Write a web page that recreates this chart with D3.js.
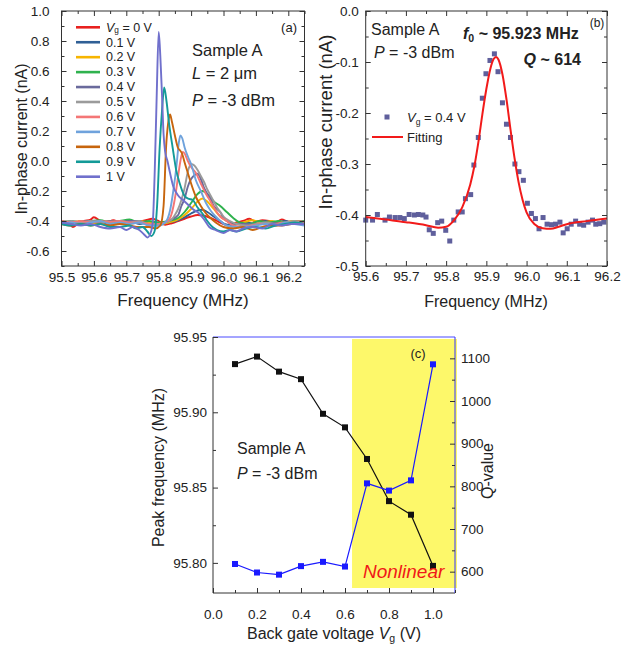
<!doctype html>
<html lang="en">
<head>
<meta charset="utf-8" />
<title>Sample A resonance</title>
<script src="https://d3js.org/d3.v7.min.js"></script>
<style>
  body { margin: 0; background: #fff; }
  svg { font-family: "Liberation Sans", Arial, sans-serif; }
  .tk text { font-size: 13.5px; fill: #222; }
  .tk line { stroke: #333; }
  .tk .domain { display: none; }
</style>
</head>
<body>
<svg id="chart" width="640" height="648"></svg>
<script>
// ---- (a) frequency sweeps, one per back gate voltage: [MHz, nA]
const sweepLabels = ["0 V", "0.1 V", "0.2 V", "0.3 V", "0.4 V", "0.5 V", "0.6 V", "0.7 V", "0.8 V", "0.9 V", "1 V"];
const sweepColors = ["#e8211f", "#2f5f95", "#f7b500", "#2fb24e", "#6a6a9c", "#9b9b9b", "#f47676", "#6fa2dc", "#c7650d", "#139a98", "#7070cc"];

const sweep0 = [[95.50,-0.405],[95.52,-0.41],[95.535,-0.44],[95.55,-0.42],[95.57,-0.40],[95.59,-0.39],[95.60,-0.375],[95.62,-0.40],[95.64,-0.41],[95.66,-0.395],[95.68,-0.41],[95.70,-0.40],[95.72,-0.415],[95.74,-0.405],[95.76,-0.395],[95.78,-0.385],[95.80,-0.40],[95.82,-0.425],[95.84,-0.415],[95.86,-0.40],[95.88,-0.385],[95.90,-0.37],[95.92,-0.36],[95.94,-0.365],[95.96,-0.38],[95.98,-0.40],[96.00,-0.42],[96.02,-0.43],[96.04,-0.41],[96.06,-0.40],[96.08,-0.385],[96.10,-0.405],[96.12,-0.395],[96.14,-0.40],[96.16,-0.41],[96.18,-0.39],[96.20,-0.405],[96.22,-0.40],[96.25,-0.405]];
const sweep1 = [[95.50,-0.415],[95.53,-0.42],[95.56,-0.40],[95.59,-0.41],[95.62,-0.405],[95.65,-0.42],[95.68,-0.41],[95.71,-0.40],[95.74,-0.42],[95.77,-0.41],[95.80,-0.42],[95.83,-0.41],[95.86,-0.395],[95.88,-0.375],[95.90,-0.35],[95.92,-0.33],[95.935,-0.325],[95.95,-0.34],[95.97,-0.37],[95.99,-0.40],[96.01,-0.425],[96.04,-0.42],[96.07,-0.41],[96.10,-0.42],[96.13,-0.40],[96.16,-0.415],[96.19,-0.40],[96.22,-0.415],[96.25,-0.41]];
const sweep2 = [[95.50,-0.40],[95.53,-0.41],[95.56,-0.40],[95.59,-0.42],[95.62,-0.41],[95.65,-0.40],[95.68,-0.41],[95.71,-0.42],[95.74,-0.40],[95.77,-0.41],[95.80,-0.42],[95.83,-0.41],[95.86,-0.39],[95.88,-0.36],[95.90,-0.32],[95.92,-0.27],[95.935,-0.25],[95.95,-0.27],[95.97,-0.32],[95.99,-0.37],[96.01,-0.40],[96.03,-0.42],[96.06,-0.41],[96.09,-0.395],[96.12,-0.41],[96.15,-0.40],[96.18,-0.42],[96.21,-0.40],[96.25,-0.41]];
const sweep3 = [[95.50,-0.41],[95.53,-0.40],[95.56,-0.41],[95.59,-0.40],[95.62,-0.395],[95.65,-0.41],[95.68,-0.40],[95.71,-0.39],[95.74,-0.41],[95.77,-0.40],[95.80,-0.41],[95.83,-0.40],[95.86,-0.38],[95.88,-0.34],[95.90,-0.28],[95.92,-0.22],[95.935,-0.20],[95.95,-0.22],[95.97,-0.27],[95.99,-0.30],[96.01,-0.34],[96.03,-0.38],[96.05,-0.41],[96.08,-0.42],[96.11,-0.40],[96.14,-0.41],[96.17,-0.40],[96.20,-0.415],[96.25,-0.40]];
const sweep4 = [[95.50,-0.40],[95.53,-0.41],[95.56,-0.405],[95.59,-0.40],[95.62,-0.41],[95.65,-0.40],[95.68,-0.405],[95.71,-0.40],[95.74,-0.40],[95.77,-0.43],[95.80,-0.43],[95.82,-0.41],[95.84,-0.39],[95.86,-0.36],[95.87,-0.30],[95.88,-0.25],[95.89,-0.17],[95.90,-0.12],[95.91,-0.095],[95.92,-0.085],[95.93,-0.12],[95.94,-0.18],[95.95,-0.22],[95.96,-0.25],[95.97,-0.30],[95.98,-0.32],[95.99,-0.34],[96.00,-0.38],[96.02,-0.41],[96.04,-0.42],[96.07,-0.42],[96.10,-0.425],[96.13,-0.41],[96.16,-0.415],[96.19,-0.415],[96.22,-0.41],[96.25,-0.405]];
const sweep5 = [[95.50,-0.41],[95.53,-0.40],[95.56,-0.41],[95.59,-0.40],[95.62,-0.405],[95.65,-0.41],[95.68,-0.40],[95.71,-0.41],[95.74,-0.40],[95.77,-0.42],[95.80,-0.42],[95.82,-0.41],[95.84,-0.39],[95.85,-0.36],[95.86,-0.32],[95.87,-0.26],[95.88,-0.18],[95.89,-0.07],[95.90,-0.02],[95.91,-0.03],[95.92,-0.06],[95.93,-0.10],[95.94,-0.14],[95.95,-0.19],[95.96,-0.23],[95.97,-0.27],[95.98,-0.31],[95.99,-0.34],[96.00,-0.37],[96.02,-0.40],[96.04,-0.42],[96.07,-0.43],[96.10,-0.42],[96.13,-0.41],[96.16,-0.42],[96.19,-0.41],[96.22,-0.40],[96.25,-0.41]];
const sweep6 = [[95.50,-0.40],[95.53,-0.41],[95.56,-0.40],[95.59,-0.41],[95.62,-0.40],[95.65,-0.405],[95.68,-0.40],[95.71,-0.41],[95.74,-0.41],[95.77,-0.42],[95.80,-0.42],[95.82,-0.41],[95.835,-0.38],[95.85,-0.25],[95.86,-0.10],[95.867,0.0],[95.874,0.06],[95.88,0.05],[95.89,0.0],[95.90,-0.04],[95.915,-0.08],[95.93,-0.15],[95.946,-0.22],[95.96,-0.27],[95.976,-0.33],[95.99,-0.37],[96.01,-0.40],[96.03,-0.43],[96.06,-0.44],[96.09,-0.43],[96.12,-0.42],[96.15,-0.43],[96.18,-0.41],[96.21,-0.42],[96.25,-0.41]];
const sweep7 = [[95.50,-0.42],[95.53,-0.41],[95.56,-0.42],[95.59,-0.41],[95.62,-0.40],[95.65,-0.42],[95.68,-0.41],[95.71,-0.42],[95.74,-0.41],[95.77,-0.43],[95.80,-0.43],[95.82,-0.41],[95.835,-0.33],[95.845,-0.20],[95.855,-0.03],[95.862,0.12],[95.867,0.17],[95.873,0.15],[95.88,0.09],[95.89,0.03],[95.90,-0.02],[95.915,-0.13],[95.93,-0.20],[95.946,-0.28],[95.96,-0.33],[95.976,-0.37],[95.99,-0.40],[96.01,-0.43],[96.04,-0.44],[96.07,-0.44],[96.10,-0.43],[96.13,-0.42],[96.16,-0.43],[96.19,-0.41],[96.22,-0.42],[96.25,-0.43]];
const sweep8 = [[95.50,-0.42],[95.53,-0.43],[95.56,-0.42],[95.59,-0.43],[95.62,-0.42],[95.65,-0.43],[95.68,-0.42],[95.71,-0.43],[95.74,-0.44],[95.77,-0.44],[95.79,-0.45],[95.805,-0.43],[95.815,-0.30],[95.823,0.10],[95.829,0.25],[95.835,0.31],[95.841,0.26],[95.85,0.17],[95.859,0.09],[95.866,0.07],[95.872,0.05],[95.88,-0.01],[95.89,-0.08],[95.90,-0.15],[95.915,-0.24],[95.93,-0.30],[95.946,-0.35],[95.96,-0.38],[95.976,-0.41],[96.00,-0.44],[96.03,-0.45],[96.06,-0.44],[96.09,-0.46],[96.12,-0.44],[96.15,-0.43],[96.18,-0.43],[96.21,-0.42],[96.25,-0.42]];
const sweep9 = [[95.50,-0.42],[95.53,-0.43],[95.56,-0.42],[95.59,-0.43],[95.62,-0.42],[95.65,-0.44],[95.68,-0.44],[95.71,-0.43],[95.73,-0.45],[95.75,-0.44],[95.765,-0.47],[95.777,-0.50],[95.787,-0.47],[95.795,-0.30],[95.803,0.09],[95.81,0.33],[95.817,0.49],[95.824,0.40],[95.832,0.25],[95.843,0.09],[95.854,-0.06],[95.865,-0.15],[95.879,-0.23],[95.89,-0.25],[95.905,-0.26],[95.92,-0.31],[95.935,-0.35],[95.95,-0.40],[95.966,-0.44],[95.98,-0.46],[96.00,-0.47],[96.02,-0.46],[96.04,-0.47],[96.07,-0.45],[96.10,-0.44],[96.13,-0.45],[96.16,-0.43],[96.19,-0.42],[96.22,-0.41],[96.25,-0.42]];
const sweep10 = [[95.50,-0.41],[95.53,-0.42],[95.56,-0.43],[95.59,-0.42],[95.62,-0.44],[95.65,-0.45],[95.68,-0.44],[95.70,-0.46],[95.72,-0.44],[95.74,-0.46],[95.755,-0.49],[95.765,-0.51],[95.775,-0.48],[95.782,-0.40],[95.788,-0.05],[95.794,0.45],[95.80,0.86],[95.805,0.70],[95.81,0.45],[95.815,0.18],[95.82,0.06],[95.827,0.0],[95.835,-0.08],[95.845,-0.17],[95.86,-0.23],[95.875,-0.26],[95.89,-0.29],[95.905,-0.32],[95.925,-0.35],[95.94,-0.39],[95.956,-0.44],[95.975,-0.46],[96.00,-0.48],[96.02,-0.46],[96.04,-0.47],[96.06,-0.45],[96.09,-0.44],[96.12,-0.45],[96.15,-0.42],[96.18,-0.43],[96.21,-0.42],[96.25,-0.42]];
const sweeps = [sweep0, sweep1, sweep2, sweep3, sweep4, sweep5, sweep6, sweep7, sweep8, sweep9, sweep10];

const aFreqTicks = [95.5, 95.6, 95.7, 95.8, 95.9, 96.0, 96.1, 96.2];
const aFreqMinor = [95.55, 95.65, 95.75, 95.85, 95.95, 96.05, 96.15, 96.25];
const aCurrTicks = [-0.6, -0.4, -0.2, 0.0, 0.2, 0.4, 0.6, 0.8, 1.0];
const aCurrMinor = [-0.7, -0.5, -0.3, -0.1, 0.1, 0.3, 0.5, 0.7, 0.9];

// ---- (b) Vg = 0.4 V data and Lorentzian fit
const bMeasured = [[95.600,-0.410],[95.617,-0.410],[95.629,-0.399],[95.648,-0.410],[95.659,-0.404],[95.673,-0.405],[95.685,-0.405],[95.696,-0.407],[95.708,-0.399],[95.721,-0.400],[95.731,-0.399],[95.742,-0.400],[95.750,-0.404],[95.758,-0.429],[95.768,-0.436],[95.779,-0.415],[95.789,-0.412],[95.799,-0.430],[95.809,-0.451],[95.819,-0.410],[95.830,-0.394],[95.840,-0.394],[95.848,-0.368],[95.861,-0.360],[95.869,-0.302],[95.880,-0.248],[95.890,-0.171],[95.899,-0.123],[95.909,-0.097],[95.920,-0.084],[95.929,-0.119],[95.940,-0.180],[95.950,-0.222],[95.960,-0.248],[95.971,-0.300],[95.981,-0.315],[95.992,-0.332],[96.002,-0.377],[96.012,-0.397],[96.022,-0.407],[96.031,-0.427],[96.041,-0.405],[96.051,-0.418],[96.062,-0.419],[96.072,-0.418],[96.083,-0.414],[96.091,-0.435],[96.101,-0.427],[96.111,-0.418],[96.122,-0.412],[96.132,-0.418],[96.142,-0.420],[96.153,-0.414],[96.164,-0.410],[96.172,-0.418],[96.182,-0.417],[96.192,-0.414]];
const bFit = [[95.60,-0.404],[95.65,-0.409],[95.70,-0.414],[95.75,-0.420],[95.78,-0.425],[95.80,-0.423],[95.82,-0.410],[95.84,-0.385],[95.86,-0.340],[95.87,-0.305],[95.88,-0.258],[95.89,-0.203],[95.90,-0.153],[95.91,-0.113],[95.918,-0.094],[95.924,-0.090],[95.93,-0.095],[95.94,-0.124],[95.95,-0.173],[95.96,-0.232],[95.97,-0.288],[95.98,-0.335],[95.99,-0.370],[96.00,-0.395],[96.02,-0.418],[96.04,-0.426],[96.06,-0.427],[96.08,-0.423],[96.10,-0.418],[96.15,-0.412],[96.20,-0.407]];
const bFreqTicks = [95.6, 95.7, 95.8, 95.9, 96.0, 96.1, 96.2];
const bFreqMinor = [95.65, 95.75, 95.85, 95.95, 96.05, 96.15];
const bCurrTicks = [-0.5, -0.4, -0.3, -0.2, -0.1, 0.0];
const bCurrMinor = [-0.45, -0.35, -0.25, -0.15, -0.05];

// ---- (c) peak frequency and Q versus back gate voltage
const gateVoltages = [0.1, 0.2, 0.3, 0.4, 0.5, 0.6, 0.7, 0.8, 0.9, 1.0];
const peakFreqs = [95.932, 95.937, 95.927, 95.922, 95.899, 95.890, 95.869, 95.841, 95.832, 95.798];
const qValues = [618, 598, 593, 613, 623, 612, 807, 790, 814, 1086];
const nonlinearFrom = 0.632;
const cVgTicks = [0.0, 0.2, 0.4, 0.6, 0.8, 1.0];
const cVgMinor = [0.1, 0.3, 0.5, 0.7, 0.9, 1.1];
const cFreqTicks = [95.80, 95.85, 95.90, 95.95];
const cFreqMinor = [95.825, 95.875, 95.925];
const cQTicks = [600, 700, 800, 900, 1000, 1100];
const cQMinor = [650, 750, 850, 950, 1050];

const svg = d3.select("#chart");
const ink = "#222";
const f1 = d => d.toFixed(1);
const f2 = d => d.toFixed(2);

function drawAxis(g, axisFn, scale, major, minor, fmt, pad, tf, color) {
  const a = g.append("g").attr("class", "tk").attr("transform", tf)
    .call(axisFn(scale).tickValues(major).tickSize(-5).tickPadding(pad).tickFormat(fmt || ""));
  g.append("g").attr("class", "tk").attr("transform", tf)
    .call(axisFn(scale).tickValues(minor).tickSize(-3).tickFormat(""));
  if (color) {
    a.selectAll("text").attr("fill", color);
  }
  return a;
}

function colorTicks(sel, color) {
  sel.selectAll(".tk line").attr("stroke", color);
}

function label(x, y, parts, size, opts) {
  opts = opts || {};
  const t = svg.append("text").attr("x", x).attr("y", y)
    .attr("font-size", size).attr("fill", opts.fill || ink)
    .attr("text-anchor", opts.anchor || "start");
  if (opts.weight) t.attr("font-weight", opts.weight);
  if (opts.rotate) t.attr("transform", `rotate(-90,${x},${y})`);
  const drop = opts.drop || 3;
  let shift = 0;
  parts.forEach(p => {
    const s = t.append("tspan").text(p.t);
    if (p.i) s.attr("font-style", "italic");
    if (p.sub) { s.attr("font-size", size * 0.66).attr("dy", drop - shift); shift = drop; }
    else if (shift) { s.attr("dy", -shift); shift = 0; }
  });
  return t;
}

// ================= panel (a)
const ax = d3.scaleLinear().domain([95.5, 96.25]).range([61.5, 304.5]);
const ay = d3.scaleLinear().domain([-0.7, 1.0]).range([266, 11]);
const ga = svg.append("g");

const lineA = d3.line().x(d => ax(d[0])).y(d => ay(d[1])).curve(d3.curveMonotoneX);
ga.append("g").selectAll("path").data(sweeps).join("path")
  .attr("d", lineA).attr("fill", "none")
  .attr("stroke", (d, i) => sweepColors[i]).attr("stroke-width", 1.9)
  .attr("stroke-linejoin", "round");

ga.append("rect").attr("x", 61.5).attr("y", 11).attr("width", 243).attr("height", 255)
  .attr("fill", "none").attr("stroke", "#333");
drawAxis(ga, d3.axisBottom, ax, aFreqTicks, aFreqMinor, f1, 6, "translate(0,266)");
drawAxis(ga, d3.axisTop, ax, aFreqTicks, aFreqMinor, null, 3, "translate(0,11)");
drawAxis(ga, d3.axisLeft, ay, aCurrTicks, aCurrMinor, d => d.toFixed(1), 12, "translate(61.5,0)");
drawAxis(ga, d3.axisRight, ay, aCurrTicks, aCurrMinor, null, 3, "translate(304.5,0)");

// legend
sweepLabels.forEach((lab, i) => {
  const y = 27.3 + i * 14.94;
  svg.append("line").attr("x1", 76).attr("x2", 100).attr("y1", y).attr("y2", y)
    .attr("stroke", sweepColors[i]).attr("stroke-width", 2.6);
  const parts = i === 0 ? [{t: "V", i: true}, {t: "g", sub: true}, {t: " = " + lab}] : [{t: lab}];
  label(106, y + 4.3, parts, 12.5, {drop: 1.5});
});

label(192, 56, [{t: "Sample A"}], 16.5);
label(192, 78.5, [{t: "L", i: true}, {t: " = 2 \u03bcm"}], 16.5);
label(192, 106, [{t: "P", i: true}, {t: " = -3 dBm"}], 16.5);
label(297, 31.5, [{t: "(a)"}], 13, {anchor: "end"});
label(183, 306, [{t: "Frequency (MHz)"}], 17, {anchor: "middle"});
label(27, 139, [{t: "In-phase current (nA)"}], 16, {anchor: "middle", rotate: true});

// ================= panel (b)
const bx = d3.scaleLinear().domain([95.6, 96.2]).range([365.7, 607]);
const by = d3.scaleLinear().domain([-0.5, 0]).range([266, 11]);
const gb = svg.append("g");

gb.append("g").selectAll("rect").data(bMeasured).join("rect")
  .attr("x", d => bx(d[0]) - 2.5).attr("y", d => by(d[1]) - 2.5)
  .attr("width", 5).attr("height", 5).attr("fill", "#5f5f9c");
const lineB = d3.line().x(d => bx(d[0])).y(d => by(d[1])).curve(d3.curveMonotoneX);
gb.append("path").datum(bFit).attr("d", lineB).attr("fill", "none")
  .attr("stroke", "#f21a1a").attr("stroke-width", 2);

gb.append("rect").attr("x", 365.7).attr("y", 11).attr("width", 241.3).attr("height", 255)
  .attr("fill", "none").attr("stroke", "#333");
drawAxis(gb, d3.axisBottom, bx, bFreqTicks, bFreqMinor, f1, 5, "translate(0,266)");
drawAxis(gb, d3.axisTop, bx, bFreqTicks, bFreqMinor, null, 3, "translate(0,11)");
drawAxis(gb, d3.axisLeft, by, bCurrTicks, bCurrMinor, f1, 7, "translate(365.7,0)");
drawAxis(gb, d3.axisRight, by, bCurrTicks, bCurrMinor, null, 3, "translate(607,0)");

label(371, 35, [{t: "Sample A"}], 16);
label(374, 58, [{t: "P", i: true}, {t: " = -3 dBm"}], 16);
label(463, 39, [{t: "f", i: true}, {t: "0", sub: true}, {t: " ~ 95.923 MHz"}], 16, {weight: "bold"});
label(581, 65, [{t: "Q", i: true}, {t: " ~ 614"}], 16, {weight: "bold", anchor: "end"});
label(597, 27, [{t: "(b)"}], 12, {anchor: "middle"});

svg.append("rect").attr("x", 384.5).attr("y", 114.5).attr("width", 5).attr("height", 5).attr("fill", "#5f5f9c");
label(407, 122, [{t: "V", i: true}, {t: "g", sub: true}, {t: " = 0.4 V"}], 13);
svg.append("line").attr("x1", 372).attr("x2", 403).attr("y1", 137).attr("y2", 137)
  .attr("stroke", "#f21a1a").attr("stroke-width", 2);
label(407, 142, [{t: "Fitting"}], 13);
label(486, 307, [{t: "Frequency (MHz)"}], 16, {anchor: "middle"});
label(332, 122, [{t: "In-phase current (nA)"}], 18.5, {anchor: "middle", rotate: true});

// ================= panel (c)
const cx = d3.scaleLinear().domain([0, 1.1]).range([213, 455]);
const cyF = d3.scaleLinear().domain([95.78, 95.95]).range([593, 337]);
const cyQ = d3.scaleLinear().domain([550, 1150]).range([593, 337]);
const gc = svg.append("g");

gc.append("rect").attr("x", cx(nonlinearFrom)).attr("y", 339)
  .attr("width", 457 - cx(nonlinearFrom)).attr("height", 249).attr("fill", "#fdf86a");

const pf = gateVoltages.map((v, i) => [v, peakFreqs[i]]);
const pq = gateVoltages.map((v, i) => [v, qValues[i]]);
gc.append("path").datum(pf).attr("fill", "none").attr("stroke", "#111").attr("stroke-width", 1.2)
  .attr("d", d3.line().x(d => cx(d[0])).y(d => cyF(d[1])));
gc.append("g").selectAll("rect").data(pf).join("rect")
  .attr("x", d => cx(d[0]) - 3).attr("y", d => cyF(d[1]) - 3)
  .attr("width", 6).attr("height", 6).attr("fill", "#111");
gc.append("path").datum(pq).attr("fill", "none").attr("stroke", "#1a1aff").attr("stroke-width", 1.2)
  .attr("d", d3.line().x(d => cx(d[0])).y(d => cyQ(d[1])));
gc.append("g").selectAll("rect").data(pq).join("rect")
  .attr("x", d => cx(d[0]) - 3).attr("y", d => cyQ(d[1]) - 3)
  .attr("width", 6).attr("height", 6).attr("fill", "#1a1aff");

gc.append("line").attr("x1", 213).attr("x2", 455).attr("y1", 337).attr("y2", 337).attr("stroke", "#4a4aff");
gc.append("line").attr("x1", 213).attr("x2", 455).attr("y1", 593).attr("y2", 593).attr("stroke", "#333");
gc.append("line").attr("x1", 213).attr("x2", 213).attr("y1", 337).attr("y2", 593).attr("stroke", "#333");
gc.append("line").attr("x1", 455).attr("x2", 455).attr("y1", 337).attr("y2", 593).attr("stroke", "#3333ff");

drawAxis(gc, d3.axisBottom, cx, cVgTicks, cVgMinor, f1, 16, "translate(0,593)");
drawAxis(gc, d3.axisLeft, cyF, cFreqTicks, cFreqMinor, f2, 6, "translate(213,0)");
const rq = gc.append("g");
drawAxis(rq, d3.axisRight, cyQ, cQTicks, cQMinor, d => String(d), 6, "translate(455,0)", "#2222ff");
colorTicks(rq, "#3333ff");

label(237, 454, [{t: "Sample A"}], 16);
label(237, 479, [{t: "P", i: true}, {t: " = -3 dBm"}], 16);
label(418, 358, [{t: "(c)"}], 13, {anchor: "middle"});
label(363, 578, [{t: "Nonlinear"}], 19, {fill: "#f01818"}).attr("font-style", "italic");
label(334, 639, [{t: "Back gate voltage "}, {t: "V", i: true}, {t: "g", sub: true}, {t: "  (V)"}], 16, {anchor: "middle"});
label(164, 467.5, [{t: "Peak frequency (MHz)"}], 16, {anchor: "middle", rotate: true});
label(493, 471, [{t: "Q-value"}], 16, {anchor: "middle", rotate: true});
</script>
</body>
</html>
